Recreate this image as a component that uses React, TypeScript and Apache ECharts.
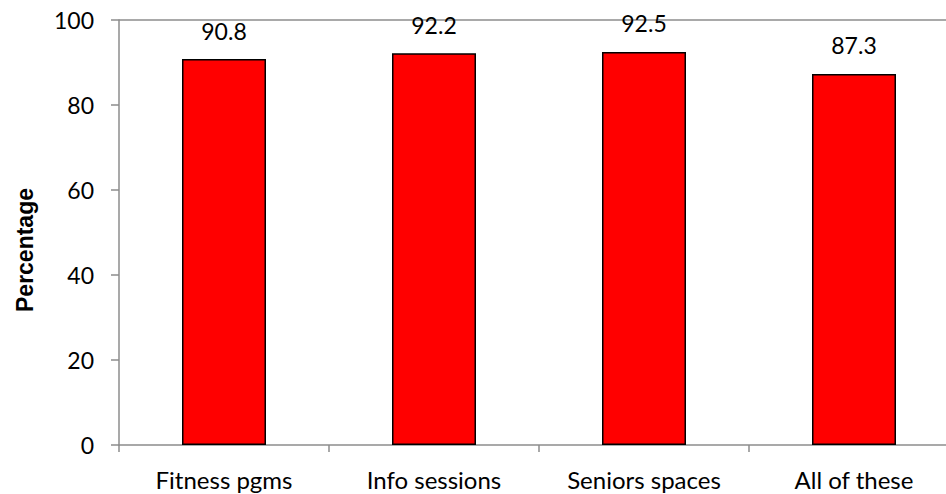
import React, { useEffect, useRef } from "react";
import * as echarts from "echarts";

const categories = ["Fitness pgms", "Info sessions", "Seniors spaces", "All of these"];
const percentages = [90.8, 92.2, 92.5, 87.3];
const yTicks = { min: 0, max: 100, interval: 20 };
const yTitle = "Percentage";

const FONT = "Lato, 'Open Sans', sans-serif";
const AXIS_GREY = "#8c8c8c";

export default function App() {
  const ref = useRef<HTMLDivElement>(null);

  useEffect(() => {
    if (!ref.current) return;
    const chart = echarts.init(ref.current, null, { renderer: "svg" });
    chart.setOption({
      animation: false,
      backgroundColor: "#ffffff",
      grid: {
        left: 119,
        top: 20,
        right: -13,
        bottom: 49,
        containLabel: false,
        outerBoundsMode: "none",
      },
      graphic: [
        {
          type: "text",
          x: 25,
          y: 250,
          rotation: Math.PI / 2,
          style: {
            text: yTitle,
            fill: "#000",
            font: "bold 23px 'Liberation Sans', Arial, sans-serif",
            align: "center",
            verticalAlign: "middle",
          },
        },
      ],
      xAxis: {
        type: "category",
        data: categories,
        axisLine: { show: true, lineStyle: { color: AXIS_GREY, width: 1.5 } },
        axisTick: { show: true, length: 7, lineStyle: { color: AXIS_GREY, width: 1.5 } },
        axisLabel: { color: "#000", fontFamily: FONT, fontSize: 24, margin: 22 },
      },
      yAxis: {
        type: "value",
        min: yTicks.min,
        max: yTicks.max,
        interval: yTicks.interval,
        axisLine: { show: true, lineStyle: { color: AXIS_GREY, width: 1.5 } },
        axisTick: { show: true, length: 8, lineStyle: { color: AXIS_GREY, width: 1.5 } },
        axisLabel: { color: "#000", fontFamily: FONT, fontSize: 23, margin: 25 },
        splitLine: { show: false },
      },
      series: [
        {
          type: "bar",
          data: percentages,
          barWidth: "40%",
          itemStyle: { color: "#ff0000", borderColor: "#000", borderWidth: 1.5 },
          label: {
            show: true,
            position: "top",
            distance: 17,
            color: "#000",
            fontFamily: FONT,
            fontSize: 23,
            formatter: (p: any) => p.value.toFixed(1),
          },
          // top border of the plot area at the axis maximum
          markLine: {
            silent: true,
            symbol: "none",
            label: { show: false },
            lineStyle: { color: AXIS_GREY, width: 1.5, type: "solid" },
            z: 0,
            data: [{ yAxis: yTicks.max }],
          },
        },
      ],
    });
    return () => chart.dispose();
  }, []);

  return <div ref={ref} style={{ width: 946, height: 494, position: "absolute", left: 0, top: 0 }} />;
}
